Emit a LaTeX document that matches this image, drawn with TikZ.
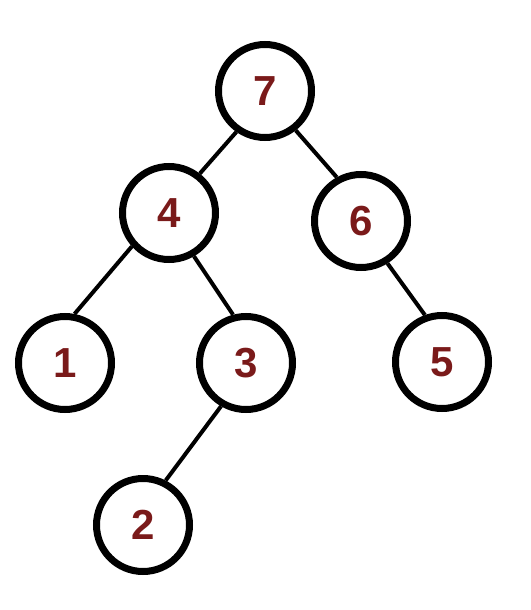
\documentclass[tikz,border=0pt]{standalone}
\usepackage{fontspec}
\setmainfont{Liberation Sans}
\usepackage{xcolor}
\definecolor{numred}{RGB}{122,26,26}
\tikzset{
	vertex/.style={circle, draw=black, line width=7pt, minimum size=93pt, inner sep=0pt, text=numred, font=\fontsize{42}{42}\selectfont\bfseries},
	branch/.style={line width=4pt}
}

\begin{document}
\begin{tikzpicture}[x=1pt, y=-1pt]
	\useasboundingbox (0,0) rectangle (530,610);
	\node[vertex] (n7) at (265,91) {7};
	\node[vertex] (n4) at (169,213) {4};
	\node[vertex] (n6) at (361,221) {6};
	\node[vertex] (n1) at (65,363) {1};
	\node[vertex] (n3) at (246,363) {3};
	\node[vertex] (n5) at (442,362) {5};
	\node[vertex] (n2) at (143,525) {2};
	\draw[branch] (n7.235) -- (n4.52);
	\draw[branch] (n7.308) -- (n6.119);
	\draw[branch] (n4.222) -- (n1.79);
	\draw[branch] (n4.300) -- (n3.105);
	\draw[branch] (n6.302) -- (n5.110);
	\draw[branch] (n3.240) -- (n2.63);
\end{tikzpicture}
\end{document}
